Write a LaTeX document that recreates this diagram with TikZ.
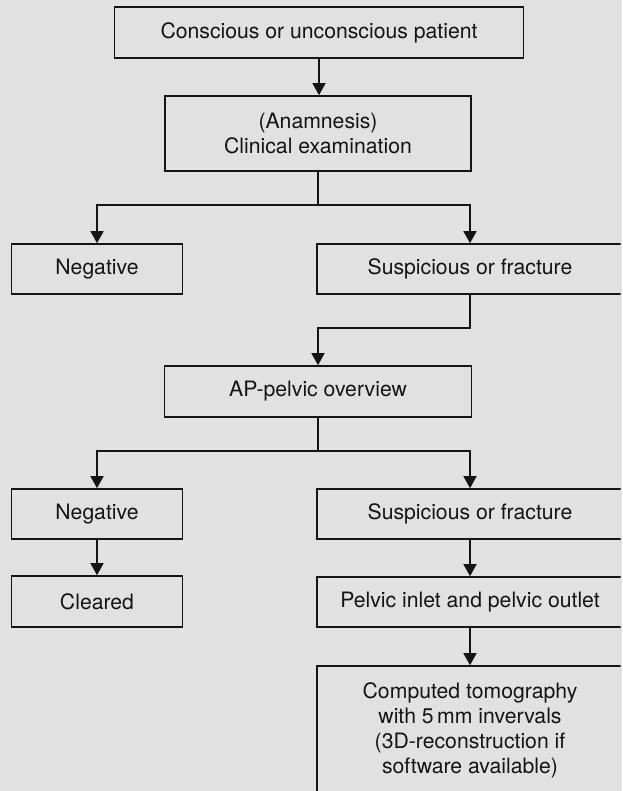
\documentclass[tikz,border=0pt]{standalone}
\usepackage{fontspec}
\setmainfont{TeX Gyre Heros}
\usetikzlibrary{arrows.meta}
\definecolor{pagebg}{RGB}{225,225,225}
\definecolor{ink}{RGB}{20,20,20}
\begin{document}
\begin{tikzpicture}[x=1pt,y=-1pt,
  box/.style={draw=ink, text=ink, line width=1.6pt, fill=pagebg, inner sep=0pt, align=center,
    font=\fontsize{21.2}{25}\selectfont},
  link/.style={draw=ink, line width=1.6pt},
  arr/.style={link, -{Triangle[width=13pt,length=12pt]}}]
\useasboundingbox (0,0) rectangle (622,791);
\fill[pagebg] (0,0) rectangle (622,791);
% the right-hand column runs off the page edge
\clip (0,0) rectangle (620.5,791);

% boxes
\node[box, minimum width=409pt, minimum height=51pt] (patient) at (319,32.5) {Conscious or unconscious patient};
\node[box, minimum width=306pt, minimum height=75pt] (exam) at (318,133.5) {(Anamnesis)\\Clinical examination};
\node[box, minimum width=171pt, minimum height=50pt] (neg1) at (97,269) {Negative};
\node[box, minimum width=306pt, minimum height=50pt] (sus1) at (470,269) {Suspicious or fracture};
\node[box, minimum width=307pt, minimum height=51pt] (ap) at (318,391.5) {AP-pelvic overview};
\node[box, minimum width=171pt, minimum height=50pt] (neg2) at (97,514) {Negative};
\node[box, minimum width=306pt, minimum height=50pt] (sus2) at (470,514) {Suspicious or fracture};
\node[box, minimum width=171pt, minimum height=51pt] (cleared) at (97,601.5) {Cleared};
\node[box, minimum width=306pt, minimum height=50pt] (pelvic) at (470,602) {Pelvic inlet and pelvic outlet};
\node[box, minimum width=306pt, minimum height=128pt] (ct) at (470,730)
  {Computed tomography\\with 5\,mm invervals\\(3D-reconstruction if\\software available)};

% connectors
\draw[arr] (patient.south) -- (patient.south |- exam.north);

\coordinate (split1) at (exam.south |- 0,205);
\draw[link] (exam.south) -- (split1);
\draw[arr] (split1) -| (neg1.north);
\draw[arr] (split1) -| (sus1.north);

\draw[arr] (sus1.south) -- ++(0,33) -| (ap.north);

\coordinate (split2) at (ap.south |- 0,451);
\draw[link] (ap.south) -- (split2);
\draw[arr] (split2) -| (neg2.north);
\draw[arr] (split2) -| (sus2.north);

\draw[arr] (neg2.south) -- (cleared.north);
\draw[arr] (sus2.south) -- (pelvic.north);
\draw[arr] (pelvic.south) -- (ct.north);
\end{tikzpicture}
\end{document}
